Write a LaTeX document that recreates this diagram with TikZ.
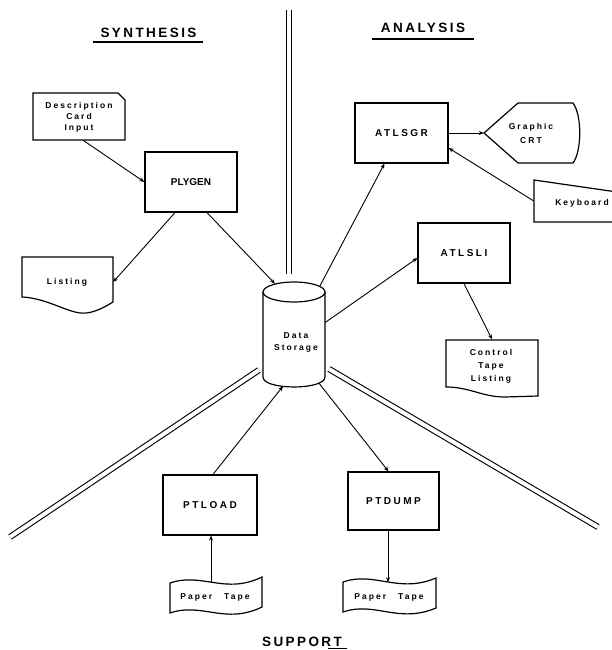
\documentclass[tikz,border=0pt]{standalone}
\usepackage{fontspec}
\usetikzlibrary{arrows.meta,calc}
\newfontfamily\titlefont[LetterSpace=18]{Liberation Sans}
\newfontfamily\capsfont[LetterSpace=25]{Liberation Sans}
\newfontfamily\lowfont[LetterSpace=24]{Liberation Sans}
\tikzset{
  title/.style={anchor=base, inner sep=0pt, font=\titlefont\bfseries\fontsize{13.5}{16}\selectfont},
  uline/.style={line width=1.5pt},
  box/.style={draw, line width=1.2pt, inner sep=0pt, font=\capsfont\bfseries\fontsize{10}{12}\selectfont},
  area/.style={inner sep=0pt},
  lbl/.style={inner sep=0pt, align=center, font=\lowfont\bfseries\fontsize{8.5}{12}\selectfont},
  outline/.style={line width=1.2pt},
  arr/.style={line width=0.9pt, -{Stealth[length=5pt,width=4pt]}},
  sepline/.style={line width=1.1pt, double, double distance=4pt},
}
\begin{document}
\begin{tikzpicture}[x=1pt,y=-1pt]
\useasboundingbox (0,0) rectangle (612,650);

% titles
\node[title] (syn) at (148.5,38) {SYNTHESIS};
\draw[uline] (93,42) -- (203,42);
\node[title] (ana) at (423,33) {ANALYSIS};
\draw[uline] (372,39) -- (474,39);
\node[title] (sup) at (302,646) {SUPPORT};
\draw[uline] (328,648.5) -- (347,648.5);

% separators
\draw[sepline] (289,10) -- (289,274);
\draw[sepline] (259,370) -- (10,537);
\draw[sepline] (329,369) -- (598,527);

% rectangular process boxes
\node[box, minimum width=92pt, minimum height=60pt] (plygen) at (191,182) {\addfontfeature{LetterSpace=0}PLYGEN};
\node[box, minimum width=93pt, minimum height=60pt] (atlsgr) at (401.5,133) {ATLSGR};
\node[box, minimum width=92pt, minimum height=60pt] (atlsli) at (464,253) {ATLSLI};
\node[box, minimum width=94pt, minimum height=60pt] (ptload) at (210,505) {PTLOAD};
\node[box, minimum width=91pt, minimum height=58pt] (ptdump) at (393.5,501) {PTDUMP};

% description card
\node[area, minimum width=92pt, minimum height=47pt] (card) at (79,116.5) {};
\draw[outline] (33,93) -- (118,93) -- (125,100) -- (125,140) -- (33,140) -- cycle;
\node[lbl, font=\lowfont\bfseries\fontsize{8.5}{11}\selectfont] (cardlbl) at (79,117) {Description\\Card\\Input};

% listing document
\node[area, minimum width=91pt, minimum height=46pt] (listing) at (67.5,280) {};
\draw[outline] (22,297) -- (22,257) -- (113,257) -- (113,302)
  .. controls (100,310) and (90,314) .. (80,313)
  .. controls (65,311) and (45,298) .. (22,297) -- cycle;
\node[lbl] (listinglbl) at (67,282) {Listing};

% graphic CRT display
\node[area, minimum width=94pt, minimum height=60pt] (crt) at (531,133) {};
\draw[outline] (518,103) -- (573,103) .. controls (582,115) and (582,151) .. (573,163)
  -- (518,163) -- (484,133) -- cycle;
\node[lbl, font=\lowfont\bfseries\fontsize{8.5}{14}\selectfont] (crtlbl) at (531,133) {Graphic\\CRT};

% keyboard manual input
\node[area, minimum width=78pt, minimum height=42pt] (kbd) at (573,201) {};
\draw[outline] (534,180) -- (624,193) -- (624,222) -- (534,222) -- cycle;
\node[lbl] (kbdlbl) at (582,203) {Keyboard};

% control tape listing document
\node[area, minimum width=92pt, minimum height=57pt] (ctl) at (492,368) {};
\draw[outline] (446,387) -- (446,340) -- (538,340) -- (538,396) -- (505,397)
  .. controls (482,397) and (470,387) .. (446,387) -- cycle;
\node[lbl, font=\lowfont\bfseries\fontsize{8.5}{13}\selectfont] (ctllbl) at (491,366) {Control\\Tape\\Listing};

% data storage cylinder
\node[area, minimum width=62pt, minimum height=105pt] (ds) at (294,334.5) {};
\draw[outline] (294,292) ellipse [x radius=31pt, y radius=10pt];
\draw[outline] (263,292) -- (263,377) .. controls (263,390.3) and (325,390.3) .. (325,377) -- (325,292);
\node[lbl] (dslbl) at (296,342) {Data\\Storage};

% paper tapes
\node[area, minimum width=92pt, minimum height=33pt] (ptl) at (216,597) {};
\draw[outline] (170,583) .. controls (202,572) and (225,595) .. (262,577) -- (262,607)
  .. controls (225,625) and (202,602) .. (170,613) -- cycle;
\node[lbl] (ptllbl) at (215,597) {Paper\hspace{12pt}Tape};

\node[area, minimum width=93pt, minimum height=33pt] (ptr) at (389.5,597) {};
\draw[outline] (343,582) .. controls (375,571) and (398,594) .. (436,578) -- (436,608)
  .. controls (398,624) and (375,601) .. (343,612) -- cycle;
\node[lbl] (ptrlbl) at (389,597) {Paper\hspace{12pt}Tape};

% connectors
\draw[arr] ($(card.south)+(4,0)$) -- (plygen.west);
\draw[arr] ($(plygen.south)+(-16,0)$) -- ($(listing.east)+(0,2)$);
\draw[arr] ($(plygen.south)+(16,0)$) -- ($(ds.north)+(-19,2)$);
\draw[arr] ($(ds.north)+(26,4)$) -- ($(atlsgr.south)+(-17,0)$);
\draw[arr] ($(ds.east)+(0,-12)$) -- ($(atlsli.west)+(0,5)$);
\draw[arr] (atlsgr.east) -- (crt.west);
\draw[arr] (kbd.west) -- ($(atlsgr.east)+(0,15)$);
\draw[arr] (atlsli.south) -- (ctl.north);
\draw[arr] ($(ds.south)+(25,-4)$) -- ($(ptdump.north)+(-5,0)$);
\draw[arr] ($(ptload.north)+(3,0)$) -- ($(ds.south)+(-11,-1)$);
\draw[arr] ($(ptl.north)+(-5,2)$) -- ($(ptload.south)+(1,0)$);
\draw[arr] ($(ptdump.south)+(-5.5,0)$) -- ($(ptr.north)+(-1.5,2)$);
\end{tikzpicture}
\end{document}
